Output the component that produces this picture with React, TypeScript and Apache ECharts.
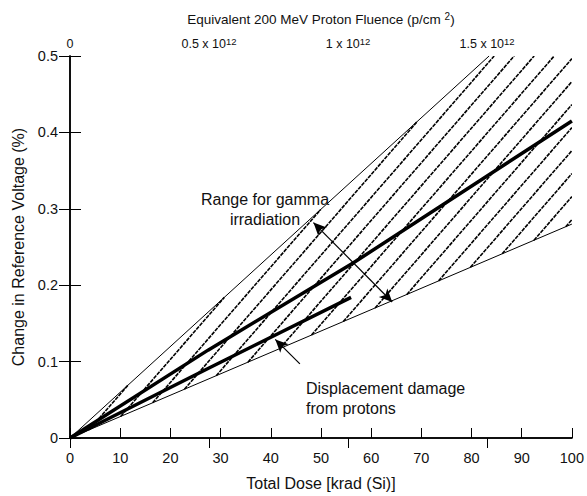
import React, { useEffect, useRef } from "react";
import * as echarts from "echarts";

// ---- data ----
const doseTicks = [0, 10, 20, 30, 40, 50, 60, 70, 80, 90, 100];
const fluenceMax = 1.805e12; // fluence at 100 krad
const upperBound: number[][] = [[0, 0], [83.5, 0.5]];
const lowerBound: number[][] = [[0, 0], [100, 0.28]];
const gammaLine: number[][] = [[0, 0], [27.5, 0.115], [56.4, 0.229], [100, 0.415]];
const protonLine: number[][] = [[0, 0], [27.5, 0.091], [56, 0.184]];
const rangeArrow: number[][] = [[48.5, 0.282], [64.2, 0.178]];
const protonArrow: number[][] = [[45.8, 0.097], [40.9, 0.129]];

const FONT = "'Liberation Sans', Arial, Helvetica, sans-serif";

export default function App() {
  const ref = useRef<HTMLDivElement>(null);
  useEffect(() => {
    if (!ref.current) return;
    const chart = echarts.init(ref.current, null, { renderer: "svg" });
    const yMax = 0.5;
    const hatchPolygon = [lowerBound[0], lowerBound[1], [100, yMax], upperBound[1]];

    const option: any = {
      animation: false,
      backgroundColor: "#fff",
      textStyle: { fontFamily: FONT },
      grid: { left: 70, right: 8, top: 56, bottom: 50 },
      xAxis: [
        {
          type: "value",
          position: "bottom",
          min: 0,
          max: 100,
          interval: 10,
          name: "Total Dose [krad (Si)]",
          nameLocation: "middle",
          nameGap: 37,
          nameTextStyle: { fontSize: 16, color: "#111", fontFamily: FONT },
          axisLine: { show: true, lineStyle: { color: "#000", width: 1.5 } },
          axisTick: { show: true, inside: true, length: 10, lineStyle: { color: "#000", width: 1 } },
          axisLabel: { fontSize: 14.5, color: "#111", margin: 12, fontFamily: FONT },
          splitLine: { show: false },
          data: doseTicks,
        },
        {
          type: "value",
          position: "top",
          min: 0,
          max: fluenceMax,
          interval: 0.5e12,
          name: "Equivalent 200 MeV Proton Fluence (p/cm {sup|2})",
          nameLocation: "middle",
          nameGap: 28,
          nameTextStyle: {
            fontSize: 13.5,
            color: "#111",
            fontFamily: FONT,
            lineHeight: 17,
            rich: { sup: { fontSize: 10, verticalAlign: "top", lineHeight: 17, fontFamily: FONT, color: "#111" } },
          },
          axisLine: { show: true, lineStyle: { color: "#000", width: 1.5 } },
          axisTick: { show: true, inside: true, length: 10, lineStyle: { color: "#000", width: 1 } },
          axisLabel: {
            fontSize: 12.5,
            color: "#111",
            margin: 4,
            lineHeight: 16,
            fontFamily: FONT,
            showMaxLabel: false,
            formatter: (v: number) => {
              if (v === 0) return "0";
              const m = Math.round(v / 1e11) / 10;
              return m + " x 10{sup|12}";
            },
            rich: { sup: { fontSize: 9.5, verticalAlign: "top", lineHeight: 16, fontFamily: FONT, color: "#111" } },
          },
          splitLine: { show: false },
        },
      ],
      yAxis: [
        {
          type: "value",
          position: "left",
          min: 0,
          max: yMax,
          interval: 0.1,
          name: "Change in Reference Voltage (%)",
          nameLocation: "middle",
          nameGap: 44,
          nameTextStyle: { fontSize: 16, color: "#111", fontFamily: FONT },
          axisLine: { show: true, lineStyle: { color: "#000", width: 1.5 } },
          axisTick: { show: true, inside: true, length: 11, lineStyle: { color: "#000", width: 1 } },
          axisLabel: {
            fontSize: 14.5,
            color: "#111",
            margin: 12,
            fontFamily: FONT,
            formatter: (v: number) => (v === 0 ? "0" : v.toFixed(1)),
          },
          splitLine: { show: false },
        },
        {
          type: "value",
          position: "right",
          min: 0,
          max: yMax,
          interval: 0.1,
          axisLine: { show: true, lineStyle: { color: "#000", width: 1.5 } },
          axisTick: { show: true, inside: true, length: 11, lineStyle: { color: "#000", width: 1 } },
          axisLabel: { show: false },
          splitLine: { show: false },
        },
      ],
      series: [
        {
          type: "custom",
          xAxisIndex: 0,
          yAxisIndex: 0,
          silent: true,
          clip: true,
          data: [0],
          renderItem: (_params: any, api: any) => {
            const poly = hatchPolygon.map((p) => api.coord(p));
            const m = 1.15;
            const step = 23;
            const cs = poly.map((p: number[]) => p[1] + m * p[0]);
            const cmin = Math.min(...cs);
            const cmax = Math.max(...cs);
            const children: any[] = [];
            for (let c = cmin + step * 0.6; c < cmax; c += step) {
              const pts: number[][] = [];
              for (let i = 0; i < poly.length; i++) {
                const A = poly[i];
                const B = poly[(i + 1) % poly.length];
                const fa = A[1] + m * A[0] - c;
                const fb = B[1] + m * B[0] - c;
                if (fa * fb <= 0 && fa !== fb) {
                  const t = fa / (fa - fb);
                  pts.push([A[0] + t * (B[0] - A[0]), A[1] + t * (B[1] - A[1])]);
                }
              }
              if (pts.length >= 2) {
                pts.sort((a, b) => a[0] - b[0]);
                const p1 = pts[0];
                const p2 = pts[pts.length - 1];
                children.push({
                  type: "line",
                  shape: { x1: p1[0], y1: p1[1], x2: p2[0], y2: p2[1] },
                  style: { stroke: "#000", lineWidth: 1.6, lineDash: [4, 1] },
                });
              }
            }
            return { type: "group", children };
          },
        },
        {
          type: "line",
          data: upperBound,
          symbol: "none",
          lineStyle: { color: "#000", width: 1 },
          z: 3,
        },
        {
          type: "line",
          data: lowerBound,
          symbol: "none",
          lineStyle: { color: "#000", width: 1 },
          z: 3,
        },
        {
          type: "line",
          data: gammaLine,
          symbol: "none",
          lineStyle: { color: "#000", width: 3.5 },
          z: 4,
        },
        {
          type: "line",
          data: protonLine,
          symbol: "none",
          lineStyle: { color: "#000", width: 3.5 },
          z: 4,
          markLine: {
            silent: true,
            symbolSize: [9, 13],
            label: { show: false },
            lineStyle: { color: "#000", width: 1.2, type: "solid" },
            data: [
              [
                { coord: rangeArrow[0], symbol: "arrow" },
                { coord: rangeArrow[1], symbol: "arrow" },
              ],
              [
                { coord: protonArrow[0], symbol: "none" },
                { coord: protonArrow[1], symbol: "arrow" },
              ],
            ],
          },
        },
      ],
      graphic: [
        {
          type: "text",
          x: 265,
          y: 209,
          style: {
            text: "Range for gamma\nirradiation",
            fontSize: 16,
            lineHeight: 20,
            fontFamily: FONT,
            fill: "#111",
            align: "center",
            verticalAlign: "middle",
          },
          z: 10,
        },
        {
          type: "text",
          x: 306,
          y: 398,
          style: {
            text: "Displacement damage\nfrom protons",
            fontSize: 16,
            lineHeight: 20,
            fontFamily: FONT,
            fill: "#111",
            align: "left",
            verticalAlign: "middle",
          },
          z: 10,
        },
      ],
    };
    chart.setOption(option);
    return () => chart.dispose();
  }, []);
  return (
    <div
      ref={ref}
      style={{ position: "absolute", left: 0, top: 0, width: 587, height: 496 }}
    />
  );
}
